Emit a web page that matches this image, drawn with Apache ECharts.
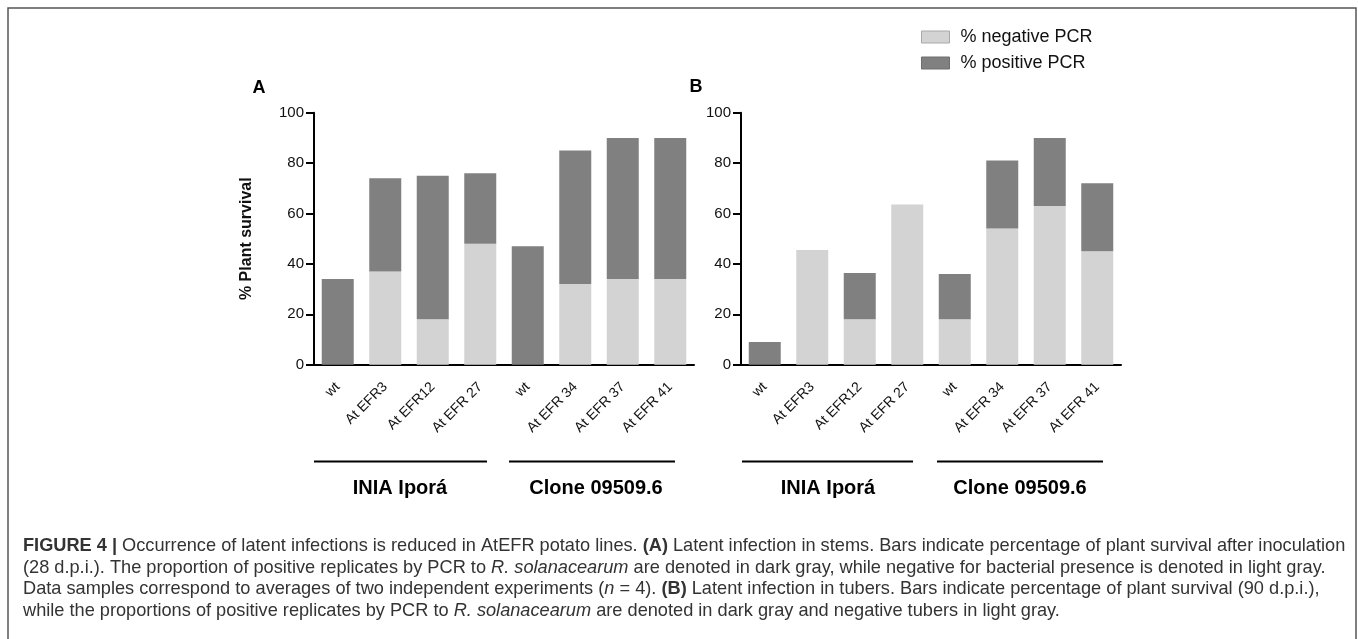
<!DOCTYPE html>
<html>
<head>
<meta charset="utf-8">
<script src="https://cdn.jsdelivr.net/npm/echarts@6/dist/echarts.min.js"></script>
<style>
html,body{margin:0;padding:0;background:#fff;}
#chart{width:1358px;height:639px;}
</style>
</head>
<body>
<div id="chart"></div>
<script>
// ---- data ----
const categories = ['wt', 'At EFR3', 'At EFR12', 'At EFR 27', 'wt', 'At EFR 34', 'At EFR 37', 'At EFR 41'];
const stemsNegative = [0, 37, 18, 48, 0, 32, 34, 34];
const stemsPositive = [34, 37, 57, 28, 47, 53, 56, 56];
const tubersNegative = [0, 45.5, 18, 63.6, 18, 54, 63, 45];
const tubersPositive = [9, 0, 18.4, 0, 18, 27, 27, 27];
const yTicks = [0, 20, 40, 60, 80, 100];
const groups = ['INIA Iporá', 'Clone 09509.6'];
const seriesNames = ['% negative PCR', '% positive PCR'];

const LIGHT = '#d3d3d3', DARK = '#808080';
const FONT = '"Liberation Sans", Arial, sans-serif';

const chart = echarts.init(document.getElementById('chart'), null, {renderer: 'canvas'});

function xAxisDef(gi) {
  return {
    type: 'category', gridIndex: gi, data: categories,
    axisLine: {lineStyle: {color: '#000', width: 2}},
    axisTick: {alignWithLabel: true, length: 7, lineStyle: {color: '#000', width: 2}},
    axisLabel: {rotate: 45, margin: 20, fontSize: 14, fontFamily: FONT, color: '#111', interval: 0}
  };
}
function yAxisDef(gi, withName) {
  const a = {
    type: 'value', gridIndex: gi, min: yTicks[0], max: yTicks[yTicks.length - 1], interval: 20,
    axisLine: {show: true, lineStyle: {color: '#000', width: 2}},
    axisTick: {show: true, length: 8, lineStyle: {color: '#000', width: 2}},
    axisLabel: {margin: 10, fontSize: 15, fontFamily: FONT, color: '#111'},
    splitLine: {show: false}
  };
  if (withName) {
    a.name = '% Plant survival';
    a.nameLocation = 'middle';
    a.nameGap = 59;
    a.nameTextStyle = {fontSize: 16, fontWeight: 'bold', fontFamily: FONT, color: '#111'};
  }
  return a;
}
function barSeries(name, data, gi, stack, color) {
  return {
    name: name, type: 'bar', xAxisIndex: gi, yAxisIndex: gi, stack: stack,
    data: data, barWidth: 32, itemStyle: {color: color, borderWidth: 0},
    emphasis: {disabled: true}, animation: false
  };
}

const CAP = 18.2;
const captionRich = {
  b: {fontWeight: 'bold', fontSize: CAP, fontFamily: FONT, fill: '#333'},
  i: {fontStyle: 'italic', fontSize: CAP, fontFamily: FONT, fill: '#333'}
};
const captionLines = [
  '{b|FIGURE 4 |} Occurrence of latent infections is reduced in AtEFR potato lines. {b|(A)} Latent infection in stems. Bars indicate percentage of plant survival after inoculation',
  '(28 d.p.i.). The proportion of positive replicates by PCR to {i|R. solanacearum} are denoted in dark gray, while negative for bacterial presence is denoted in light gray.',
  'Data samples correspond to averages of two independent experiments ({i|n} = 4). {b|(B)} Latent infection in tubers. Bars indicate percentage of plant survival (90 d.p.i.),',
  'while the proportions of positive replicates by PCR to {i|R. solanacearum} are denoted in dark gray and negative tubers in light gray.'
];
const captionY = [546, 567.5, 589, 610.5];

const graphics = [
  {type: 'rect', shape: {x: 8, y: 8, width: 1348, height: 660}, style: {fill: null, stroke: '#555', lineWidth: 1.5}, silent: true},
  {type: 'text', x: 259, y: 88, style: {text: 'A', fontSize: 18, fontWeight: 'bold', fontFamily: FONT, fill: '#000', align: 'center', verticalAlign: 'middle'}},
  {type: 'text', x: 696, y: 87, style: {text: 'B', fontSize: 18, fontWeight: 'bold', fontFamily: FONT, fill: '#000', align: 'center', verticalAlign: 'middle'}},
  {type: 'line', shape: {x1: 314, y1: 461.5, x2: 487, y2: 461.5}, style: {stroke: '#000', lineWidth: 2}},
  {type: 'line', shape: {x1: 509, y1: 461.5, x2: 675, y2: 461.5}, style: {stroke: '#000', lineWidth: 2}},
  {type: 'line', shape: {x1: 742, y1: 461.5, x2: 913, y2: 461.5}, style: {stroke: '#000', lineWidth: 2}},
  {type: 'line', shape: {x1: 937, y1: 461.5, x2: 1103, y2: 461.5}, style: {stroke: '#000', lineWidth: 2}},
  {type: 'text', x: 400, y: 488, style: {text: groups[0], fontSize: 20, fontWeight: 'bold', fontFamily: FONT, fill: '#000', align: 'center', verticalAlign: 'middle'}},
  {type: 'text', x: 596, y: 488, style: {text: groups[1], fontSize: 20, fontWeight: 'bold', fontFamily: FONT, fill: '#000', align: 'center', verticalAlign: 'middle'}},
  {type: 'text', x: 828, y: 488, style: {text: groups[0], fontSize: 20, fontWeight: 'bold', fontFamily: FONT, fill: '#000', align: 'center', verticalAlign: 'middle'}},
  {type: 'text', x: 1020, y: 488, style: {text: groups[1], fontSize: 20, fontWeight: 'bold', fontFamily: FONT, fill: '#000', align: 'center', verticalAlign: 'middle'}}
];
captionLines.forEach((t, i) => {
  graphics.push({type: 'text', x: 23, y: captionY[i], style: {text: t, rich: captionRich, fontSize: CAP, fontFamily: FONT, fill: '#333', verticalAlign: 'middle', align: 'left'}});
});

const option = {
  backgroundColor: '#fff',
  animation: false,
  legend: {
    orient: 'vertical', left: 916, top: 23,
    icon: 'rect',
    data: seriesNames.map((n, i) => ({name: n, itemStyle: {borderColor: i ? '#6e6e6e' : '#a8a8a8', borderWidth: 1}})),
    itemWidth: 28, itemHeight: 12, itemGap: 8,
    textStyle: {fontSize: 18, fontFamily: FONT, color: '#111', padding: [0, 0, 0, 6]},
    selectedMode: false
  },
  grid: [
    {left: 314, top: 112.7, width: 380, height: 252},
    {left: 741, top: 112.7, width: 380, height: 252}
  ],
  xAxis: [xAxisDef(0), xAxisDef(1)],
  yAxis: [yAxisDef(0, true), yAxisDef(1, false)],
  series: [
    barSeries(seriesNames[0], stemsNegative, 0, 'a', LIGHT),
    barSeries(seriesNames[1], stemsPositive, 0, 'a', DARK),
    barSeries(seriesNames[0], tubersNegative, 1, 'b', LIGHT),
    barSeries(seriesNames[1], tubersPositive, 1, 'b', DARK)
  ],
  graphic: graphics
};
chart.setOption(option);
</script>
</body>
</html>
